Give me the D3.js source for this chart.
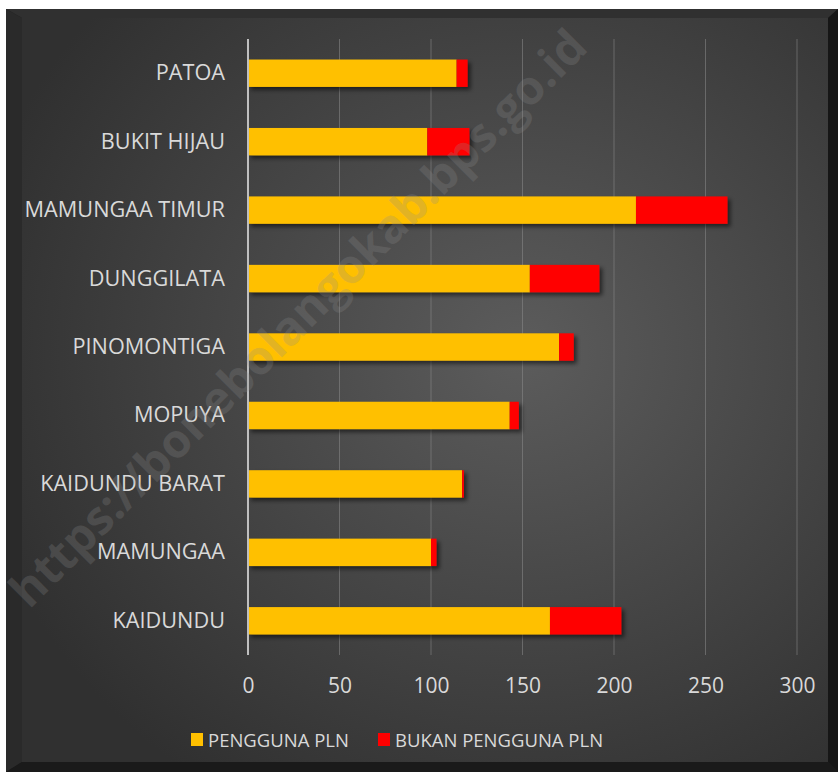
<!DOCTYPE html>
<html lang="en">
<head>
<meta charset="UTF-8">
<title>Pengguna PLN</title>
<script src="https://cdn.jsdelivr.net/npm/d3@7/dist/d3.min.js"></script>
<style>
  body { margin: 0; background: #fff; }
  text { font-family: "Open Sans", "Noto Sans", sans-serif; fill: #d9d9d9; }
</style>
</head>
<body>
<div id="app"></div>
<script>
// data
var categories = ["KAIDUNDU", "MAMUNGAA", "KAIDUNDU BARAT", "MOPUYA", "PINOMONTIGA",
                  "DUNGGILATA", "MAMUNGAA TIMUR", "BUKIT HIJAU", "PATOA"];
var pengguna = [165, 100, 117, 143, 170, 154, 212, 98, 114];
var bukan = [39, 3, 1, 5, 8, 38, 50, 23, 6];
var seriesNames = ["PENGGUNA PLN", "BUKAN PENGGUNA PLN"];
var seriesColors = ["#FFC000", "#FF0000"];
var xTicks = [0, 50, 100, 150, 200, 250, 300];

var width = 838, height = 772;
var svg = d3.select("#app").append("svg")
    .attr("width", width).attr("height", height);

var defs = svg.append("defs");
var bg = defs.append("radialGradient").attr("id", "bg")
    .attr("cx", "62%").attr("cy", "45%").attr("r", "70%");
bg.append("stop").attr("offset", "0%").attr("stop-color", "#5c5c5c");
bg.append("stop").attr("offset", "100%").attr("stop-color", "#303030");

var shadow = defs.append("filter").attr("id", "shadow")
    .attr("x", "-5%").attr("y", "-30%").attr("width", "115%").attr("height", "170%");
shadow.append("feDropShadow").attr("dx", 3).attr("dy", 3)
    .attr("stdDeviation", 2).attr("flood-color", "#000").attr("flood-opacity", 0.55);

// frame with bevel
var fx0 = 6, fy0 = 9, fx1 = 838, fy1 = 772;
var ix0 = 22, iy0 = 18, ix1 = 828, iy1 = 762;
svg.append("rect").attr("x", fx0).attr("y", fy0)
    .attr("width", fx1 - fx0).attr("height", fy1 - fy0).attr("fill", "#1e1e1e");
var bevels = [
  [[fx0, fy0], [fx1, fy0], [ix1, iy0], [ix0, iy0], "#303030"],
  [[fx0, fy0], [ix0, iy0], [ix0, iy1], [fx0, fy1], "#2a2a2a"],
  [[fx1, fy0], [fx1, fy1], [ix1, iy1], [ix1, iy0], "#161616"],
  [[fx0, fy1], [ix0, iy1], [ix1, iy1], [fx1, fy1], "#1a1a1a"]
];
svg.selectAll("polygon.bevel").data(bevels).enter().append("polygon")
    .attr("class", "bevel")
    .attr("points", function (d) { return d.slice(0, 4).map(function (p) { return p.join(","); }).join(" "); })
    .attr("fill", function (d) { return d[4]; });
svg.append("rect").attr("x", ix0).attr("y", iy0)
    .attr("width", ix1 - ix0).attr("height", iy1 - iy0).attr("fill", "url(#bg)");

var x = d3.scaleLinear().domain([0, 300]).range([248, 797]);
var y = d3.scaleBand().domain(categories).range([655, 39])
    .paddingInner(0.6).paddingOuter(0.3);

// gridlines
svg.append("g").selectAll("line").data(xTicks.slice(1)).enter().append("line")
    .attr("x1", function (d) { return x(d); }).attr("x2", function (d) { return x(d); })
    .attr("y1", 39).attr("y2", 655)
    .attr("stroke", "#8a8a8a").attr("stroke-opacity", 0.55).attr("stroke-width", 1);

// stacked bars
var rows = categories.map(function (c, i) {
  return { cat: c, pengguna: pengguna[i], bukan: bukan[i] };
});
var stack = d3.stack().keys(["pengguna", "bukan"])(rows);

var barG = svg.append("g").attr("filter", "url(#shadow)");
barG.selectAll("g").data(stack).enter().append("g")
    .attr("fill", function (d, i) { return seriesColors[i]; })
  .selectAll("rect").data(function (d) { return d; }).enter().append("rect")
    .attr("x", function (d) { return x(d[0]); })
    .attr("width", function (d) { return x(d[1]) - x(d[0]); })
    .attr("y", function (d) { return y(d.data.cat); })
    .attr("height", y.bandwidth());

// value axis line
svg.append("line").attr("x1", x(0)).attr("x2", x(0)).attr("y1", 39).attr("y2", 655)
    .attr("stroke", "#bfbfbf").attr("stroke-width", 2);

// x axis
var xAxis = svg.append("g").attr("transform", "translate(0,655)")
    .call(d3.axisBottom(x).tickValues(xTicks).tickSize(0).tickPadding(31));
xAxis.select(".domain").remove();
xAxis.selectAll("text").attr("dy", "0.35em")
    .style("font-size", "21px").attr("fill", "#d9d9d9");

// y axis
var yAxis = svg.append("g").attr("transform", "translate(248,0)")
    .call(d3.axisLeft(y).tickSize(0).tickPadding(23));
yAxis.select(".domain").remove();
yAxis.selectAll("text").style("font-size", "21.7px").attr("fill", "#d9d9d9");

// legend
var legendX = [191, 378];
var legend = svg.append("g").selectAll("g").data(seriesNames).enter().append("g")
    .attr("transform", function (d, i) { return "translate(" + legendX[i] + ",733)"; });
legend.append("rect").attr("width", 12).attr("height", 13)
    .attr("fill", function (d, i) { return seriesColors[i]; });
legend.append("text").attr("x", 17).attr("y", 13.5)
    .style("font-size", "18.5px").text(function (d) { return d; });

// watermark
svg.append("text")
    .attr("transform", "translate(298,318) rotate(-45)")
    .attr("text-anchor", "middle").attr("dy", "0.35em")
    .style("font-size", "47px").style("font-weight", "bold")
    .style("fill", "#8c8c8c").style("fill-opacity", 0.25)
    .text("https://bonebolangokab.bps.go.id");
</script>
</body>
</html>
